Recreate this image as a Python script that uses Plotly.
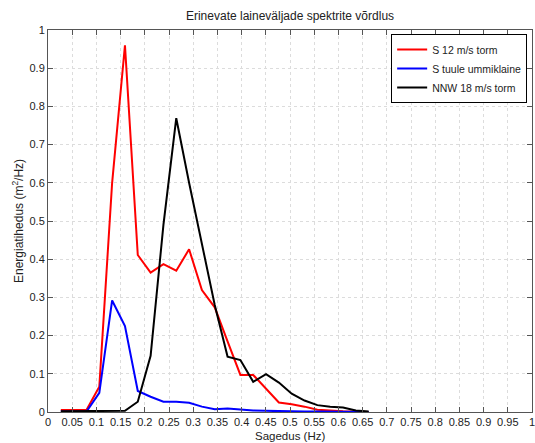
import plotly.graph_objects as go

# Frequency bins (Hz)
sagedus = [0.0265, 0.053, 0.0795, 0.106, 0.1325, 0.159, 0.1855, 0.212, 0.2385,
           0.265, 0.2915, 0.318, 0.3445, 0.371, 0.3975, 0.424, 0.4505, 0.477,
           0.5035, 0.53, 0.5565, 0.583, 0.6095, 0.636, 0.6625]

# Spectral energy density (m^2/Hz) for each sea state
s_12_torm = [0.005, 0.005, 0.005, 0.066, 0.60, 0.96, 0.411, 0.365, 0.387,
             0.370, 0.426, 0.319, 0.274, 0.185, 0.097, 0.097, 0.060, 0.025,
             0.020, 0.014, 0.006, 0.003, 0.002, 0.001, 0.0]
s_ummiklaine = [0.001, 0.001, 0.001, 0.050, 0.292, 0.225, 0.055, 0.040, 0.027,
                0.027, 0.024, 0.014, 0.007, 0.009, 0.006, 0.004, 0.003, 0.002,
                0.001, 0.001, 0.001, 0.001, 0.0, 0.0, 0.0]
nnw_18_torm = [0.002, 0.002, 0.002, 0.002, 0.002, 0.003, 0.027, 0.147, 0.49,
               0.769, 0.60, 0.44, 0.28, 0.145, 0.136, 0.079, 0.099, 0.077,
               0.048, 0.030, 0.018, 0.014, 0.012, 0.004, 0.001]

series_names = ["S 12 m/s torm", "S tuule ummiklaine", "NNW 18 m/s torm"]
series_values = [s_12_torm, s_ummiklaine, nnw_18_torm]
series_colors = ["#ff0000", "#0000ff", "#000000"]

x_ticks = [round(i * 0.05, 2) for i in range(21)]
x_tick_labels = ["0", "0.05", "0.1", "0.15", "0.2", "0.25", "0.3", "0.35", "0.4",
                 "0.45", "0.5", "0.55", "0.6", "0.65", "0.7", "0.75", "0.8",
                 "0.85", "0.9", "0.95", "1"]
y_ticks = [round(i * 0.1, 1) for i in range(11)]
y_tick_labels = ["0", "0.1", "0.2", "0.3", "0.4", "0.5", "0.6", "0.7", "0.8", "0.9", "1"]

FONT = "Liberation Sans, Arial, sans-serif"

fig = go.Figure()
for name, vals, col in zip(series_names, series_values, series_colors):
    fig.add_trace(go.Scatter(x=sagedus, y=vals, mode="lines", name=name,
                             line=dict(color=col, width=2)))

axis_common = dict(
    showgrid=True, gridcolor="#dcdcdc", griddash="dot", gridwidth=1,
    showline=True, linecolor="#555555", linewidth=1, mirror="ticks",
    ticks="inside", ticklen=5, tickcolor="#555555",
    zeroline=False, tickfont=dict(family=FONT, size=11, color="#222222"),
    automargin=False, ticklabeloverflow="allow",
)

fig.update_xaxes(range=[0, 1], tickvals=x_ticks, ticktext=x_tick_labels, **axis_common)
fig.update_yaxes(range=[0, 1], tickvals=y_ticks, ticktext=y_tick_labels, **axis_common)

fig.update_layout(
    width=535, height=443,
    margin=dict(l=48, r=3, t=30, b=31, pad=0),
    paper_bgcolor="white", plot_bgcolor="white",
    font=dict(family=FONT, size=11, color="#222222"),
    title=dict(text="Erinevate laineväljade spektrite võrdlus",
               x=0.5, xref="paper", xanchor="center",
               y=1 - 16 / 443, yref="container", yanchor="middle",
               font=dict(family=FONT, size=12, color="#222222")),
    legend=dict(x=0.99, y=0.9895, xanchor="right", yanchor="top",
                bgcolor="white", bordercolor="#000000", borderwidth=1,
                font=dict(family=FONT, size=10.5, color="#222222"),
                itemwidth=30, tracegroupgap=0),
    showlegend=True,
    annotations=[
        dict(text="Sagedus (Hz)", x=0.5, y=0, xref="paper", yref="paper",
             xanchor="center", yanchor="middle", yshift=-24, showarrow=False,
             font=dict(family=FONT, size=11.5, color="#222222")),
        dict(text="Energiatihedus (m<sup>2</sup>/Hz)", x=0, y=0.5,
             xref="paper", yref="paper", xanchor="center", yanchor="middle",
             xshift=-30, textangle=-90, showarrow=False,
             font=dict(family=FONT, size=12, color="#222222")),
    ],
)

fig.write_html("out.html")
